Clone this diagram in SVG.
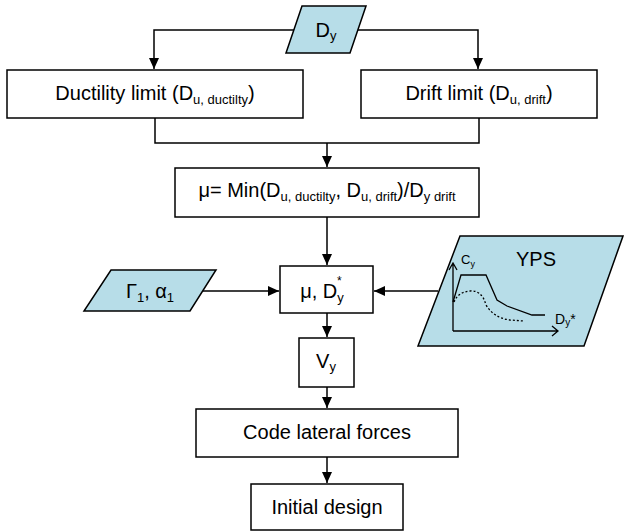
<svg xmlns="http://www.w3.org/2000/svg" width="624" height="531" viewBox="0 0 624 531">
<style>
.box{fill:#fff;stroke:#000;stroke-width:1.5}
.io{fill:#b7dde8;stroke:#000;stroke-width:1.5}
.t{font-family:"Liberation Sans",Arial,sans-serif;font-size:20px;fill:#000}
.s{font-size:13px}
.c{fill:none;stroke:#000;stroke-width:1.5}
.ax{fill:none;stroke:#000;stroke-width:1.3}
</style>
<defs>
<marker id="a" markerWidth="12" markerHeight="12" refX="11" refY="6" orient="auto" markerUnits="userSpaceOnUse" viewBox="0 0 12 12"><path d="M0,1 L11,6 L0,11z" fill="#000"/></marker>
</defs>
<g id="connectors">
<path class="c" d="M296,30 H154 V69" marker-end="url(#a)"/>
<path class="c" d="M357,30 H478 V69" marker-end="url(#a)"/>
<path class="c" d="M155,118 V143 H479 V118"/>
<path class="c" d="M327,143 V167" marker-end="url(#a)"/>
<path class="c" d="M327,217 V265" marker-end="url(#a)"/>
<path class="c" d="M203,291 H279" marker-end="url(#a)"/>
<path class="c" d="M438,291 H374" marker-end="url(#a)"/>
<path class="c" d="M327,313 V337" marker-end="url(#a)"/>
<path class="c" d="M327,387 V408" marker-end="url(#a)"/>
<path class="c" d="M327,457 V483" marker-end="url(#a)"/>
</g>
<g id="dy">
<polygon class="io" points="302,6 366,6 350,53 286,53"/>
<text class="t" x="326" y="37" text-anchor="middle">D<tspan class="s" dy="3">y</tspan></text>
</g>
<g id="ductility">
<rect class="box" x="7" y="70" width="296" height="48"/>
<text class="t" x="155" y="100" text-anchor="middle">Ductility limit (D<tspan class="s" dy="4">u, ductilty</tspan><tspan dy="-4">)</tspan></text>
</g>
<g id="drift">
<rect class="box" x="361" y="70" width="236" height="48"/>
<text class="t" x="479" y="100" text-anchor="middle">Drift limit (D<tspan class="s" dy="4">u, drift</tspan><tspan dy="-4">)</tspan></text>
</g>
<g id="mu">
<rect class="box" x="175" y="168" width="304" height="49"/>
<text class="t" x="327" y="197" text-anchor="middle">μ= Min(D<tspan class="s" dy="4">u, ductilty</tspan><tspan dy="-4">, D</tspan><tspan class="s" dy="4">u, drift</tspan><tspan dy="-4">)/D</tspan><tspan class="s" dy="4">y drift</tspan></text>
</g>
<g id="gamma">
<polygon class="io" points="111,270 216,270 190,311 84,311"/>
<text class="t" x="150" y="298" text-anchor="middle">Γ<tspan class="s" dy="4">1</tspan><tspan dy="-4">, α</tspan><tspan class="s" dy="4">1</tspan></text>
</g>
<g id="mudy">
<rect class="box" x="280" y="266" width="93" height="47"/>
<text class="t" x="322" y="298" text-anchor="middle">μ, D<tspan class="s" dy="4">y</tspan></text>
<text class="t" x="337" y="285" style="font-size:12px">*</text>
</g>
<g id="yps">
<polygon class="io" points="460,236 623,236 584,346 418,346"/>
<text class="t" x="536" y="266" text-anchor="middle" style="font-size:20px">YPS</text>
<path class="ax" d="M453,331 V264 M449,270 L453,263 L457,270 M453,331 H558 M552,326 L558,331 L552,336"/>
<path class="ax" d="M453,302 L461,275 H486 L497,300 L507,306 L532,315 H545"/>
<path class="ax" stroke-dasharray="2,2" d="M454,302 Q458,292 470,291 Q482,290 486,305 Q494,318 510,320 L524,321"/>
<text class="t" x="461" y="264" style="font-size:13px">C<tspan style="font-size:9px" dy="3">y</tspan></text>
<text class="t" x="555" y="324" style="font-size:14px">D<tspan style="font-size:10px" dy="2">y</tspan><tspan dy="-2">*</tspan></text>
</g>
<g id="vy">
<rect class="box" x="299" y="338" width="55" height="49"/>
<text class="t" x="326" y="368" text-anchor="middle">V<tspan class="s" dy="3">y</tspan></text>
</g>
<g id="code">
<rect class="box" x="196" y="409" width="262" height="48"/>
<text class="t" x="327" y="439" text-anchor="middle">Code lateral forces</text>
</g>
<g id="initial">
<rect class="box" x="251" y="484" width="152" height="46"/>
<text class="t" x="327" y="514" text-anchor="middle">Initial design</text>
</g>
</svg>
